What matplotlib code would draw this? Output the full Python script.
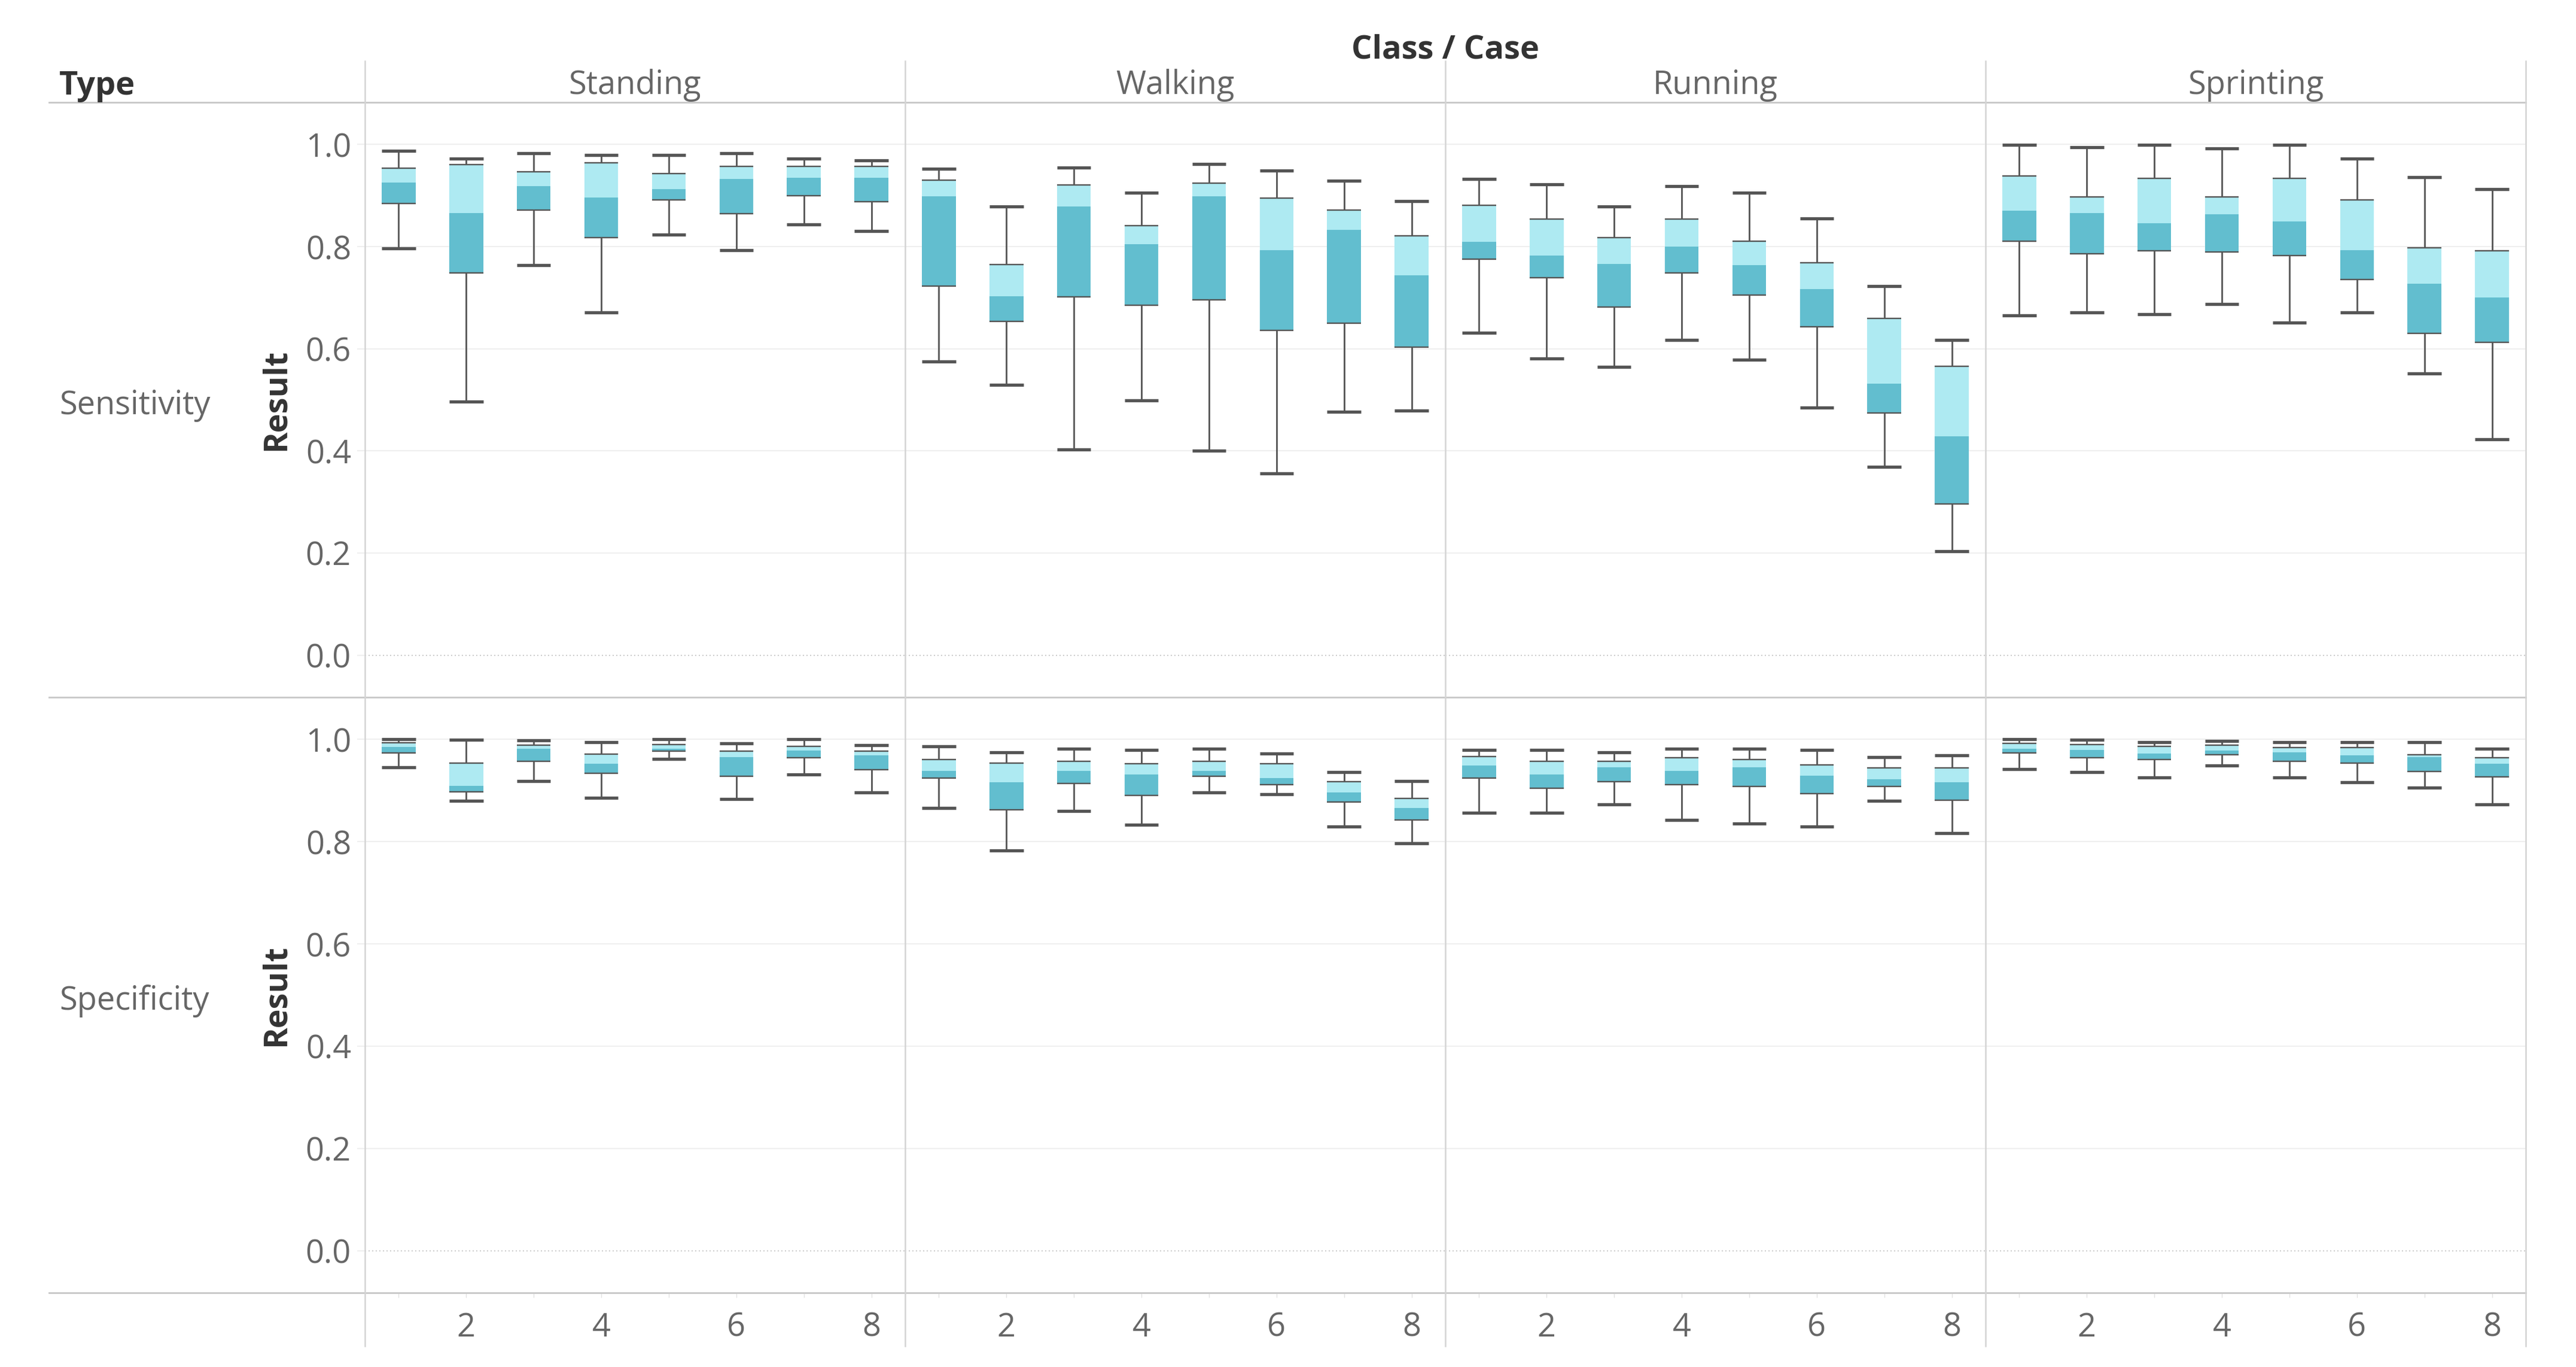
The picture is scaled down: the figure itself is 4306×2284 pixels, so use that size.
import matplotlib.pyplot as plt
from matplotlib.lines import Line2D

plt.rcParams['font.family'] = ['Open Sans', 'DejaVu Sans']

# Categories
classes = ['Standing', 'Walking', 'Running', 'Sprinting']
cases = [1, 2, 3, 4, 5, 6, 7, 8]
types = ['Sensitivity', 'Specificity']
y_ticks = [0.0, 0.2, 0.4, 0.6, 0.8, 1.0]
x_ticks = [2, 4, 6, 8]

# Sensitivity box statistics, one list of 8 cases per class
sens_high = [[0.988, 0.972, 0.983, 0.979, 0.979, 0.983, 0.972, 0.969],
             [0.952, 0.879, 0.955, 0.906, 0.962, 0.949, 0.929, 0.889],
             [0.932, 0.922, 0.879, 0.919, 0.906, 0.855, 0.723, 0.617],
             [0.999, 0.995, 0.999, 0.992, 0.999, 0.972, 0.936, 0.913]]
sens_q3 = [[0.953, 0.961, 0.947, 0.964, 0.943, 0.957, 0.957, 0.957],
           [0.930, 0.765, 0.921, 0.841, 0.924, 0.895, 0.871, 0.821],
           [0.881, 0.854, 0.818, 0.854, 0.811, 0.768, 0.659, 0.566],
           [0.938, 0.897, 0.934, 0.897, 0.934, 0.892, 0.798, 0.792]]
sens_med = [[0.925, 0.866, 0.919, 0.896, 0.913, 0.932, 0.935, 0.935],
            [0.899, 0.703, 0.879, 0.805, 0.899, 0.793, 0.833, 0.744],
            [0.809, 0.783, 0.766, 0.800, 0.764, 0.717, 0.532, 0.429],
            [0.870, 0.866, 0.846, 0.863, 0.849, 0.793, 0.727, 0.701]]
sens_q1 = [[0.885, 0.749, 0.871, 0.818, 0.891, 0.864, 0.900, 0.888],
           [0.723, 0.653, 0.702, 0.685, 0.696, 0.636, 0.650, 0.603],
           [0.775, 0.739, 0.682, 0.749, 0.705, 0.643, 0.474, 0.296],
           [0.811, 0.786, 0.792, 0.789, 0.782, 0.736, 0.630, 0.613]]
sens_low = [[0.797, 0.496, 0.764, 0.671, 0.823, 0.793, 0.843, 0.830],
            [0.575, 0.529, 0.403, 0.499, 0.400, 0.356, 0.476, 0.479],
            [0.631, 0.581, 0.565, 0.617, 0.578, 0.485, 0.369, 0.204],
            [0.665, 0.671, 0.668, 0.687, 0.651, 0.671, 0.552, 0.423]]

# Specificity box statistics
spec_high = [[1.000, 0.999, 0.998, 0.995, 1.000, 0.992, 1.000, 0.989],
             [0.986, 0.975, 0.982, 0.979, 0.982, 0.972, 0.936, 0.919],
             [0.979, 0.979, 0.975, 0.982, 0.982, 0.979, 0.966, 0.969],
             [1.000, 0.999, 0.995, 0.997, 0.995, 0.995, 0.995, 0.982]]
spec_q3 = [[0.994, 0.954, 0.989, 0.971, 0.990, 0.977, 0.987, 0.977],
           [0.961, 0.954, 0.957, 0.953, 0.957, 0.953, 0.917, 0.885],
           [0.967, 0.957, 0.957, 0.964, 0.961, 0.950, 0.944, 0.944],
           [0.992, 0.990, 0.987, 0.989, 0.984, 0.984, 0.970, 0.964]]
spec_med = [[0.985, 0.909, 0.982, 0.952, 0.982, 0.965, 0.978, 0.969],
            [0.939, 0.916, 0.939, 0.932, 0.939, 0.925, 0.896, 0.866],
            [0.949, 0.932, 0.945, 0.939, 0.945, 0.929, 0.922, 0.916],
            [0.982, 0.979, 0.972, 0.978, 0.975, 0.969, 0.966, 0.952]]
spec_q1 = [[0.974, 0.898, 0.957, 0.934, 0.977, 0.928, 0.964, 0.941],
           [0.924, 0.862, 0.914, 0.891, 0.928, 0.911, 0.878, 0.842],
           [0.924, 0.904, 0.917, 0.911, 0.908, 0.894, 0.908, 0.881],
           [0.974, 0.964, 0.961, 0.970, 0.957, 0.954, 0.937, 0.927]]
spec_low = [[0.946, 0.880, 0.919, 0.886, 0.962, 0.883, 0.932, 0.896],
            [0.866, 0.783, 0.860, 0.833, 0.896, 0.893, 0.830, 0.797],
            [0.856, 0.856, 0.873, 0.843, 0.836, 0.830, 0.880, 0.817],
            [0.942, 0.936, 0.926, 0.949, 0.926, 0.916, 0.906, 0.873]]

stats = {
    'Sensitivity': (sens_low, sens_q1, sens_med, sens_q3, sens_high),
    'Specificity': (spec_low, spec_q1, spec_med, spec_q3, spec_high),
}

light = '#aeeaf2'
dark = '#62becf'
whisker = '#555555'
grey_txt = '#666666'
dark_txt = '#333333'
fs = 19.5

W, H = 4306, 2284
DPI = 200
fig = plt.figure(figsize=(W / DPI, H / DPI), dpi=DPI)

def fx(px):
    return px / W

def fy(py):
    return 1 - py / H

col_edges = [610, 1513, 2416, 3319, 4222]
row_edges = [171, 1165, 2160]
box_w = 0.5

for r, t in enumerate(types):
    low, q1, med, q3, high = stats[t]
    for c, cl in enumerate(classes):
        x0, x1 = col_edges[c], col_edges[c + 1]
        y0, y1 = row_edges[r], row_edges[r + 1]
        ax = fig.add_axes([fx(x0), fy(y1), fx(x1 - x0), (y1 - y0) / H])
        ax.set_facecolor('none')
        for s in ax.spines.values():
            s.set_visible(False)

        lo, a, m, b, hi = low[c], q1[c], med[c], q3[c], high[c]
        ax.bar(cases, [mm - aa for mm, aa in zip(m, a)], bottom=a, width=box_w,
               color=dark, zorder=2, linewidth=0)
        ax.bar(cases, [bb - mm for bb, mm in zip(b, m)], bottom=m, width=box_w,
               color=light, zorder=2, linewidth=0)
        left = [x - box_w / 2 for x in cases]
        right = [x + box_w / 2 for x in cases]
        ax.vlines(cases, b, hi, color=whisker, lw=1.0, zorder=3)
        ax.vlines(cases, lo, a, color=whisker, lw=1.0, zorder=3)
        ax.hlines(hi, left, right, color=whisker, lw=1.9, zorder=4, capstyle='butt')
        ax.hlines(lo, left, right, color=whisker, lw=1.9, zorder=4, capstyle='butt')
        ax.hlines(b, left, right, color=whisker, lw=0.85, zorder=4, capstyle='butt')
        ax.hlines(a, left, right, color=whisker, lw=0.85, zorder=4, capstyle='butt')

        ax.set_xlim(0.5, 8.5)
        ax.set_ylim(-0.0825, 1.0825)
        ax.set_yticks(y_ticks)
        ax.grid(axis='y', color='#efefef', lw=0.75, zorder=0)
        gl = ax.get_ygridlines()
        gl[0].set_color('#c4c4c4')
        gl[0].set_linestyle((0, (1.2, 2.4)))
        gl[0].set_linewidth(0.6)

        if c == 0:
            ax.set_yticklabels([f'{v:.1f}' for v in y_ticks], fontsize=fs, color=grey_txt)
            ax.tick_params(axis='y', length=4.7, width=0.75, color='#efefef', pad=3.6)
        else:
            ax.tick_params(axis='y', length=0, labelleft=False)

        if r == len(types) - 1:
            ax.set_xticks(x_ticks)
            ax.set_xticks([1, 3, 5, 7], minor=True)
            ax.set_xticklabels([str(v) for v in x_ticks], fontsize=fs, color=grey_txt)
            ax.tick_params(axis='x', which='both', length=3, width=0.5, color='#e2e2e2', pad=8.0)
        else:
            ax.set_xticks([])

# separators
for yy in row_edges:
    fig.add_artist(Line2D([fx(82), fx(4222)], [fy(yy), fy(yy)], color='#c8c8c8', lw=1.0))
for xx in col_edges:
    fig.add_artist(Line2D([fx(xx), fx(xx)], [fy(102), fy(2249)], color='#d4d4d4', lw=0.9))

# headers
fig.text(fx((col_edges[0] + col_edges[-1]) / 2), fy(97), 'Class / Case', ha='center', va='baseline',
         fontsize=fs, fontweight='bold', color=dark_txt)
fig.text(fx(99), fy(158), 'Type', ha='left', va='baseline', fontsize=fs,
         fontweight='bold', color=dark_txt)
for c, cl in enumerate(classes):
    fig.text(fx((col_edges[c] + col_edges[c + 1]) / 2), fy(157), cl, ha='center',
             va='baseline', fontsize=fs, color=grey_txt)

for r, t in enumerate(types):
    yc = (row_edges[r] + row_edges[r + 1]) / 2
    fig.text(fx(99), fy(yc + 24), t, ha='left', va='baseline', fontsize=fs, color=grey_txt)
    fig.text(fx(462), fy(yc), 'Result', ha='center', va='center', rotation=90,
             fontsize=fs, fontweight='bold', color=dark_txt)

fig.savefig('out.png', dpi=DPI, facecolor='white')
